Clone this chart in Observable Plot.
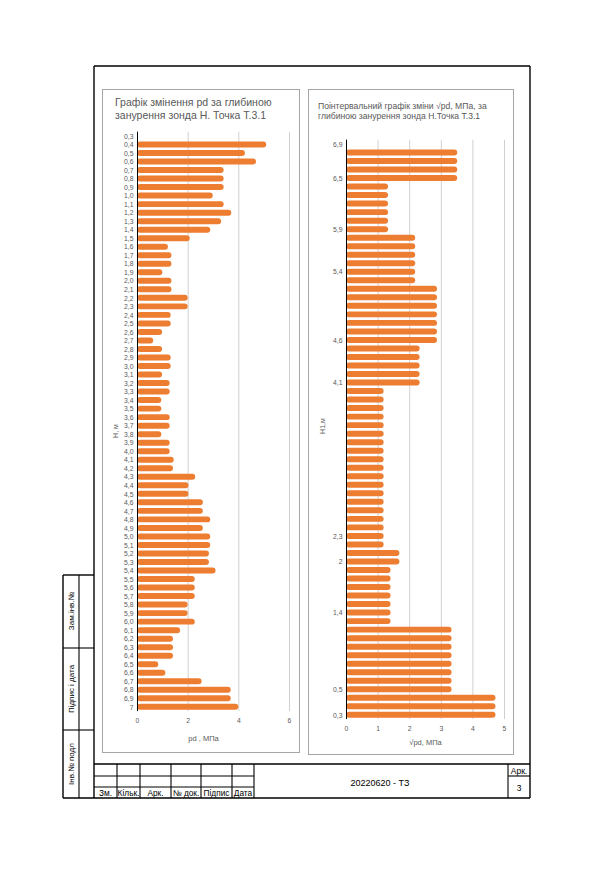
<!DOCTYPE html>
<html><head><meta charset="utf-8">
<script src="https://cdn.jsdelivr.net/npm/d3@7"></script>
<script src="https://cdn.jsdelivr.net/npm/@observablehq/plot@0.6"></script>
<style>
body{margin:0;background:#fff;}
#page{position:relative;width:613px;height:869px;font-family:"Liberation Sans",Arial,sans-serif;overflow:hidden;}
.panel{position:absolute;border:1px solid #a6a6a6;box-sizing:border-box;background:#fff;}
.title{position:absolute;color:#595959;white-space:nowrap;}
.chart{position:absolute;}
#frame{position:absolute;left:0;top:0;}
</style></head>
<body><div id="page">
<div class="panel" style="left:102px;top:89px;width:198px;height:664px;"></div>
<div class="panel" style="left:308px;top:89px;width:206px;height:666px;"></div>
<div class="title" style="left:115px;top:95.5px;font-size:10.5px;line-height:13px;">Графік змінення pd за глибиною<br>занурення зонда Н. Точка Т.3.1</div>
<div class="title" style="left:318px;top:100.5px;font-size:8.6px;line-height:10.5px;">Поінтервальний графік зміни √pd, МПа, за<br>глибиною занурення зонда Н.Точка Т.3.1</div>
<div class="chart" id="left" style="left:102px;top:125px;"></div>
<div class="chart" id="right" style="left:308px;top:125px;"></div>
<svg id="frame" width="613" height="869"></svg>
</div>
<script>
// ---- Left chart data: depth H (m) and pd (MPa)
const leftDepths = ["0,3","0,4","0,5","0,6","0,7","0,8","0,9","1,0","1,1","1,2","1,3","1,4","1,5","1,6","1,7","1,8","1,9","2,0","2,1","2,2","2,3","2,4","2,5","2,6","2,7","2,8","2,9","3,0","3,1","3,2","3,3","3,4","3,5","3,6","3,7","3,8","3,9","4,0","4,1","4,2","4,3","4,4","4,5","4,6","4,7","4,8","4,9","5,0","5,1","5,2","5,3","5,4","5,5","5,6","5,7","5,8","5,9","6,0","6,1","6,2","6,3","6,4","6,5","6,6","6,7","6,8","6,9","7"];
const leftValues = [0,5.1,4.26,4.7,3.42,3.42,3.42,2.99,3.42,3.72,3.32,2.89,2.08,1.22,1.36,1.36,1.0,1.36,1.36,2.0,2.0,1.33,1.33,0.99,0.64,0.99,1.33,1.33,0.99,1.29,1.29,0.96,0.96,1.29,1.29,0.96,1.29,1.29,1.45,1.42,2.3,2.03,2.03,2.6,2.6,2.89,2.6,2.89,2.89,2.84,2.84,3.1,2.28,2.28,2.28,2.0,2.0,2.28,1.7,1.42,1.42,1.42,0.84,1.12,2.55,3.7,3.7,4.0];
const leftTicks = [0,2,4,6];

// ---- Right chart data: interval values (top to bottom), sparse depth labels
const rightLabels = ["6,9","","","","6,5","","","","","","5,9","","","","","5,4","","","","","","","","4,6","","","","","4,1","","","","","","","","","","","","","","","","","","2,3","","","2","","","","","","1,4","","","","","","","","","0,5","","","0,3"];
const rightValues = [0,3.52,3.52,3.52,3.52,1.33,1.33,1.33,1.33,1.33,1.33,2.19,2.19,2.19,2.19,2.19,2.19,2.88,2.88,2.88,2.88,2.88,2.88,2.88,2.33,2.33,2.33,2.33,2.33,1.19,1.19,1.19,1.19,1.19,1.19,1.19,1.19,1.19,1.19,1.19,1.19,1.19,1.19,1.19,1.19,1.19,1.19,1.19,1.69,1.69,1.41,1.41,1.41,1.41,1.41,1.41,1.41,3.34,3.34,3.34,3.34,3.34,3.34,3.34,3.34,4.73,4.73,4.73];
const rightTicks = [0,1,2,3,4,5];

const orange = "#ED7D31";
const grid = "#d0d0d0";
const txt = "#595959";
const font = "Liberation Sans, Arial, sans-serif";

const leftData = leftDepths.map((d, i) => ({d, v: leftValues[i]}));
const leftPlot = Plot.plot({
  width: 198, height: 625,
  marginLeft: 35, marginRight: 11, marginTop: 6.7, marginBottom: 38.9,
  style: {background: "transparent", fontFamily: font, fontSize: "6.8px", color: txt, overflow: "visible"},
  x: {domain: [0, 6], ticks: leftTicks, tickSize: 0, tickPadding: 7, label: null, tickFormat: d => String(d)},
  y: {domain: leftDepths, tickSize: 0, tickPadding: 4, label: null, paddingInner: 0.3, paddingOuter: 0.15},
  marks: [
    Plot.ruleX(leftTicks.filter(t => t > 0), {stroke: grid, strokeWidth: 1}),
    Plot.barX(leftData.filter(r => r.v > 0), {x: "v", y: "d", fill: orange, rx: 3}),
    Plot.ruleX([0], {stroke: "#000", strokeWidth: 1}),
    Plot.text(["pd , МПа"], {frameAnchor: "bottom", dy: 29, dx: -10, fontSize: 7.5, fill: txt}),
    Plot.text(["Н, м"], {frameAnchor: "left", rotate: -90, dx: -22, dy: 16, fontSize: 7, fill: txt})
  ]
});
document.getElementById("left").appendChild(leftPlot);

const rightIdx = rightLabels.map((_, i) => i);
const rightData = rightIdx.map(i => ({i, v: rightValues[i]}));
const rightPlot = Plot.plot({
  width: 206, height: 625,
  marginLeft: 38, marginRight: 10, marginTop: 14.7, marginBottom: 30.9,
  style: {background: "transparent", fontFamily: font, fontSize: "6.8px", color: txt, overflow: "visible"},
  x: {domain: [0, 5], ticks: rightTicks, tickSize: 0, tickPadding: 6.5, label: null, tickFormat: d => String(d)},
  y: {domain: rightIdx, tickSize: 0, tickPadding: 4, label: null, paddingInner: 0.3, paddingOuter: 0.15, tickFormat: i => rightLabels[i]},
  marks: [
    Plot.ruleX(rightTicks.filter(t => t > 0), {stroke: grid, strokeWidth: 1}),
    Plot.barX(rightData.filter(r => r.v > 0), {x: "v", y: "i", fill: orange, rx: 3}),
    Plot.ruleX([0], {stroke: "#000", strokeWidth: 1}),
    Plot.text(["√pd, МПа"], {frameAnchor: "bottom", dy: 25, fontSize: 7.5, fill: txt}),
    Plot.text(["Н1,м"], {frameAnchor: "left", rotate: -90, dx: -24, dy: 4, fontSize: 7, fill: txt})
  ]
});
document.getElementById("right").appendChild(rightPlot);

// ---- Drawing frame (decoration)
const svg = d3.select("#frame");
const thick = [
  [94,66,530,66],[530,66,530,798],[63,798,530,798],[94,66,94,798],
  [63,575,63,798],[63,575,94,575],[94,764,530,764]
];
const thin = [
  [79,575,79,798],[63,648,94,648],[63,730,94,730],
  [117,764,117,798],[140,764,140,798],[171,764,171,798],[201,764,201,798],[232,764,232,798],[254,764,254,798],
  [508,764,508,798],[94,776,254,776],[94,787,254,787],[508,776,530,776]
];
svg.selectAll("line.t").data(thick).join("line").attr("class","t")
  .attr("x1",d=>d[0]).attr("y1",d=>d[1]).attr("x2",d=>d[2]).attr("y2",d=>d[3])
  .attr("stroke","#000").attr("stroke-width",1.4);
svg.selectAll("line.n").data(thin).join("line").attr("class","n")
  .attr("x1",d=>d[0]).attr("y1",d=>d[1]).attr("x2",d=>d[2]).attr("y2",d=>d[3])
  .attr("stroke","#000").attr("stroke-width",1.1);
const cellTexts = [["Зм.",105.5],["Кільк.",128.5],["Арк.",155.5],["№ док.",186],["Підпис",216.5],["Дата",243]];
svg.selectAll("text.c").data(cellTexts).join("text").attr("class","c")
  .attr("x",d=>d[1]).attr("y",795.5).attr("text-anchor","middle")
  .attr("font-family",font).attr("font-size",8.3).attr("fill","#000").text(d=>d[0]);
svg.append("text").attr("x",380).attr("y",786).attr("text-anchor","middle")
  .attr("font-family",font).attr("font-size",9).text("20220620 - ТЗ");
svg.append("text").attr("x",519).attr("y",773.5).attr("text-anchor","middle")
  .attr("font-family",font).attr("font-size",8.5).text("Арк.");
svg.append("text").attr("x",519).attr("y",791).attr("text-anchor","middle")
  .attr("font-family",font).attr("font-size",8.5).text("3");
const sideTexts = [["Зам.інв.№",611],["Підпис і дата",689],["Інв.№ подл",764]];
svg.selectAll("text.s").data(sideTexts).join("text").attr("class","s")
  .attr("transform",d=>`translate(74,${d[1]}) rotate(-90)`).attr("text-anchor","middle")
  .attr("font-family",font).attr("font-size",8).text(d=>d[0]);
</script>
</body></html>
